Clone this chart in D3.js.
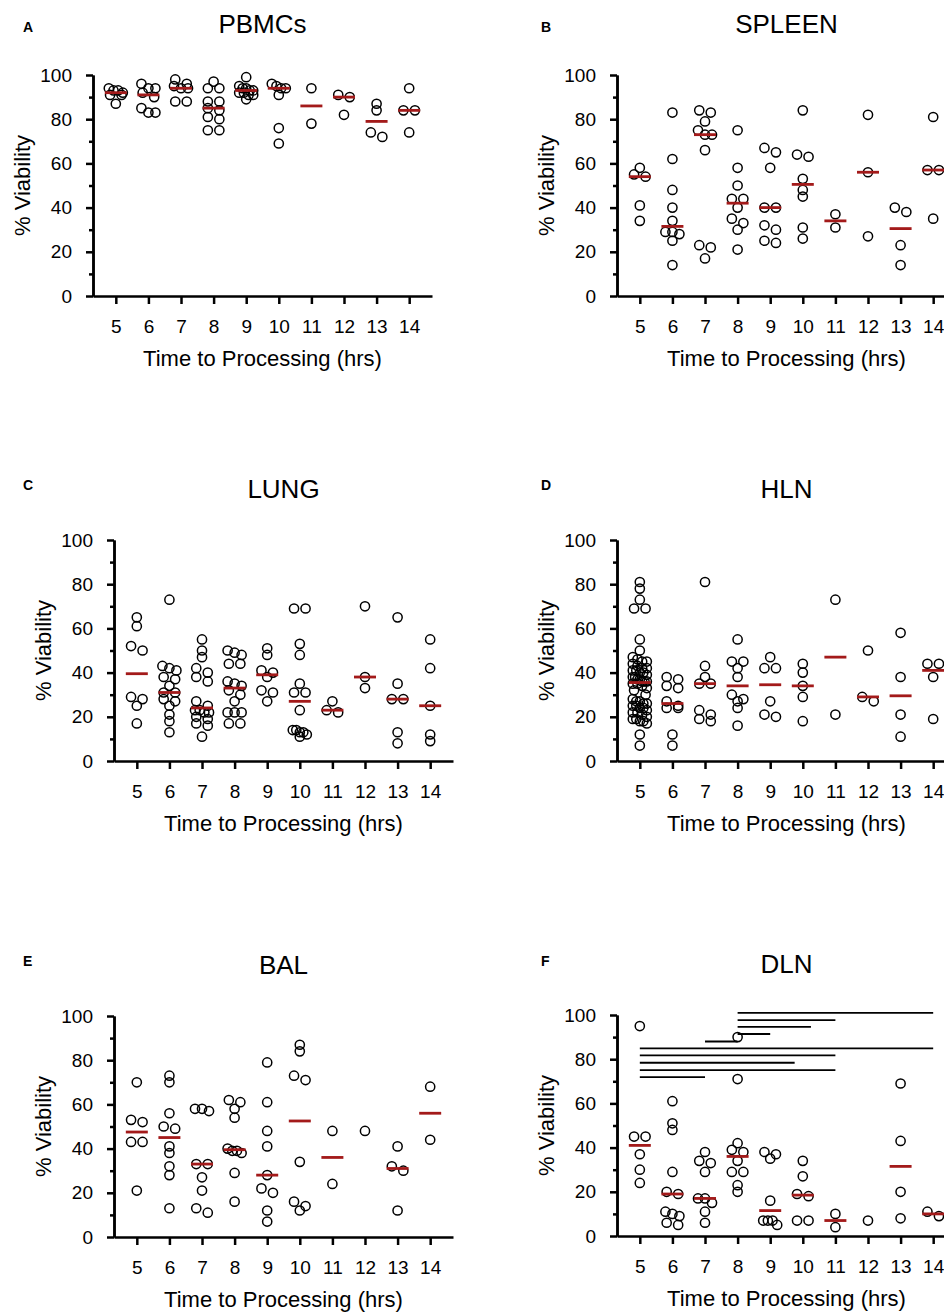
<!DOCTYPE html>
<html>
<head>
<meta charset="utf-8">
<script src="https://cdn.jsdelivr.net/npm/d3@7"></script>
<style>
  body { margin: 0; background: #fff; }
  text { font-family: "Liberation Sans", Arial, sans-serif; fill: #000; }
</style>
</head>
<body>
<svg id="chart" width="944" height="1314"></svg>
<script>
//------ Données ------
const hours = [5, 6, 7, 8, 9, 10, 11, 12, 13, 14];
const yTicks = [0, 20, 40, 60, 80, 100];
const yMinorTicks = [10, 30, 50, 70, 90];
const panelLetters = ["A", "B", "C", "D", "E", "F"];
const panelTitles = ["PBMCs", "SPLEEN", "LUNG", "HLN", "BAL", "DLN"];
const yTitle = "% Viability";
const xTitle = "Time to Processing (hrs)";

// une liste de viabilités par heure (5..14)
const pbmcs = [
  [94, 93, 93, 92, 91, 91, 87],
  [96, 94, 94, 92, 90, 85, 83, 83],
  [98, 96, 95, 94, 94, 88, 88],
  [97, 94, 94, 88, 88, 85, 84, 81, 80, 75, 75],
  [99, 95, 94, 94, 93, 93, 92, 92, 91, 91, 89],
  [96, 95, 94, 94, 91, 76, 69],
  [94, 78],
  [91, 90, 82],
  [87, 84, 74, 72],
  [94, 84, 84, 74]
];
const spleen = [
  [58, 55, 54, 41, 34],
  [83, 62, 48, 40, 34, 29, 29, 28, 25, 14],
  [84, 83, 79, 75, 73, 73, 66, 23, 22, 17],
  [75, 58, 50, 44, 44, 40, 35, 33, 30, 21],
  [67, 65, 58, 40, 40, 32, 30, 25, 24],
  [84, 64, 63, 53, 48, 45, 31, 26],
  [37, 31],
  [82, 56, 27],
  [40, 38, 23, 14],
  [81, 57, 57, 35]
];
const lung = [
  [65, 61, 52, 50, 29, 28, 25, 17],
  [73, 43, 42, 41, 38, 37, 34, 31, 31, 28, 27, 25, 21, 18, 13],
  [55, 50, 47, 42, 40, 38, 36, 27, 25, 23, 23, 22, 22, 20, 19, 17, 16, 11],
  [50, 49, 48, 44, 44, 36, 35, 34, 32, 30, 27, 22, 22, 22, 17, 17],
  [51, 48, 41, 40, 38, 32, 31, 27],
  [69, 69, 53, 48, 35, 31, 31, 23, 14, 14, 13, 13, 12, 11],
  [27, 23, 22],
  [70, 38, 33],
  [65, 35, 28, 28, 13, 8],
  [55, 42, 25, 12, 9]
];
const hln = [
  [81, 78, 73, 69, 69, 55, 50, 47, 46, 45, 45, 44, 43, 42, 42, 41, 41, 40, 40, 39,
   38, 38, 37, 37, 36, 36, 36, 35, 35, 34, 33, 32, 30, 28, 27, 27, 26, 26, 25, 25,
   24, 24, 23, 22, 22, 21, 20, 19, 19, 18, 18, 17, 12, 7],
  [38, 37, 34, 33, 27, 25, 24, 24, 12, 7],
  [81, 43, 38, 35, 35, 23, 21, 19, 18],
  [55, 45, 45, 42, 38, 30, 28, 27, 24, 16],
  [47, 42, 42, 27, 21, 20],
  [44, 40, 34, 29, 18],
  [73, 21],
  [50, 29, 27],
  [58, 38, 21, 11],
  [44, 44, 38, 19]
];
const bal = [
  [70, 53, 52, 43, 43, 21],
  [73, 70, 56, 50, 49, 41, 38, 32, 28, 13],
  [58, 58, 57, 33, 33, 27, 21, 13, 11],
  [62, 61, 58, 54, 40, 39, 39, 38, 29, 16],
  [79, 61, 48, 41, 28, 22, 20, 12, 7],
  [87, 84, 73, 71, 34, 16, 14, 12],
  [48, 24],
  [48],
  [41, 32, 30, 12],
  [68, 44]
];
const dln = [
  [95, 45, 45, 37, 30, 24],
  [61, 51, 48, 29, 20, 19, 11, 10, 9, 6, 5],
  [38, 34, 33, 29, 17, 17, 15, 11, 6],
  [90, 71, 42, 39, 38, 34, 29, 29, 23, 20],
  [38, 37, 35, 16, 7, 7, 7, 5],
  [34, 27, 19, 18, 7, 7],
  [10, 4],
  [7],
  [69, 43, 20, 8],
  [9, 11]
];

// barres de significativité du panneau F (heure début, heure fin, niveau)
const sigFrom  = [8, 8, 8, 8, 7, 5, 5, 5, 5, 5];
const sigTo    = [14, 11, 10.25, 9, 8, 14, 11, 9.75, 11, 7];
const sigLevel = [101, 97.7, 94.6, 91.4, 88, 84.9, 81.7, 78.4, 75.1, 71.9];

//------ Mise en page ------
const plotW = 339, plotH = 221;
const panels = [
  { data: pbmcs,  left: 93,  top: 75,   letterX: 23,  letterY: 32 },
  { data: spleen, left: 617, top: 75,   letterX: 541, letterY: 32 },
  { data: lung,   left: 114, top: 540,  letterX: 23,  letterY: 490 },
  { data: hln,    left: 617, top: 540,  letterX: 541, letterY: 490 },
  { data: bal,    left: 114, top: 1016, letterX: 23,  letterY: 966 },
  { data: dln,    left: 617, top: 1015, letterX: 541, letterY: 966 }
];

const red = "#a31a1a";
const svg = d3.select("#chart");

const x = d3.scaleLinear().domain([4.3, 14.7]).range([0, plotW]);
const y = d3.scaleLinear().domain([0, 100]).range([plotH, 0]);

// disposition en lignes centrées (style GraphPad)
function swarm(values) {
  const sorted = values.slice().sort((a, b) => b - a);
  const out = [];
  let i = 0;
  while (i < sorted.length) {
    const y0 = y(sorted[i]);
    let j = i;
    while (j < sorted.length && y(sorted[j]) - y0 < 4.5) j++;
    const n = j - i;
    const step = n > 1 ? Math.min(11.5, 14 / (n - 1)) : 0;
    for (let k = 0; k < n; k++) {
      out.push({ value: sorted[i + k], dx: (k - (n - 1) / 2) * step });
    }
    i = j;
  }
  return out;
}

panels.forEach((p, pi) => {
  // lettre du panneau
  svg.append("text")
    .attr("x", p.letterX).attr("y", p.letterY)
    .attr("font-size", 14).attr("font-weight", "bold")
    .text(panelLetters[pi]);

  const g = svg.append("g").attr("transform", `translate(${p.left},${p.top})`);

  // titre
  g.append("text")
    .attr("x", plotW / 2).attr("y", -42)
    .attr("text-anchor", "middle").attr("font-size", 26)
    .text(panelTitles[pi]);

  // axe y
  g.append("g")
    .call(d3.axisLeft(y).tickValues(yTicks).tickSize(7).tickSizeOuter(0).tickPadding(14));
  g.append("g")
    .call(d3.axisLeft(y).tickValues(yMinorTicks).tickSize(4).tickSizeOuter(0).tickFormat(""));

  // axe x
  g.append("g")
    .attr("transform", `translate(0,${plotH})`)
    .call(d3.axisBottom(x).tickValues(hours).tickSize(8).tickSizeOuter(0).tickPadding(16).tickFormat(d3.format("d")));

  g.selectAll(".domain, .tick line").attr("stroke", "#000").attr("stroke-width", 2.5);
  g.selectAll(".tick text").attr("font-size", 19).attr("fill", "#000")
    .attr("font-family", '"Liberation Sans", Arial, sans-serif');

  // titres des axes
  g.append("text")
    .attr("transform", `translate(-71,${plotH / 2}) rotate(-90)`)
    .attr("dy", "0.35em")
    .attr("text-anchor", "middle").attr("font-size", 22)
    .text(yTitle);
  g.append("text")
    .attr("x", plotW / 2).attr("y", plotH + 70)
    .attr("text-anchor", "middle").attr("font-size", 22)
    .text(xTitle);

  // points
  p.data.forEach((vals, hi) => {
    const h = hours[hi];
    g.append("g").selectAll("circle")
      .data(swarm(vals))
      .enter().append("circle")
      .attr("cx", d => x(h) + d.dx)
      .attr("cy", d => y(d.value))
      .attr("r", 4.6)
      .attr("fill", "none")
      .attr("stroke", "#000")
      .attr("stroke-width", 1.5);
  });

  // médianes
  p.data.forEach((vals, hi) => {
    if (vals.length < 2) return;
    const h = hours[hi];
    const m = d3.median(vals);
    g.append("line")
      .attr("x1", x(h) - 11).attr("x2", x(h) + 11)
      .attr("y1", y(m)).attr("y2", y(m))
      .attr("stroke", red).attr("stroke-width", 2.8);
  });

  // barres de significativité (DLN)
  if (pi === 5) {
    sigLevel.forEach((lv, i) => {
      g.append("line")
        .attr("x1", x(sigFrom[i])).attr("x2", x(sigTo[i]))
        .attr("y1", y(lv)).attr("y2", y(lv))
        .attr("stroke", "#000").attr("stroke-width", 1.8);
    });
  }
});
</script>
</body>
</html>
